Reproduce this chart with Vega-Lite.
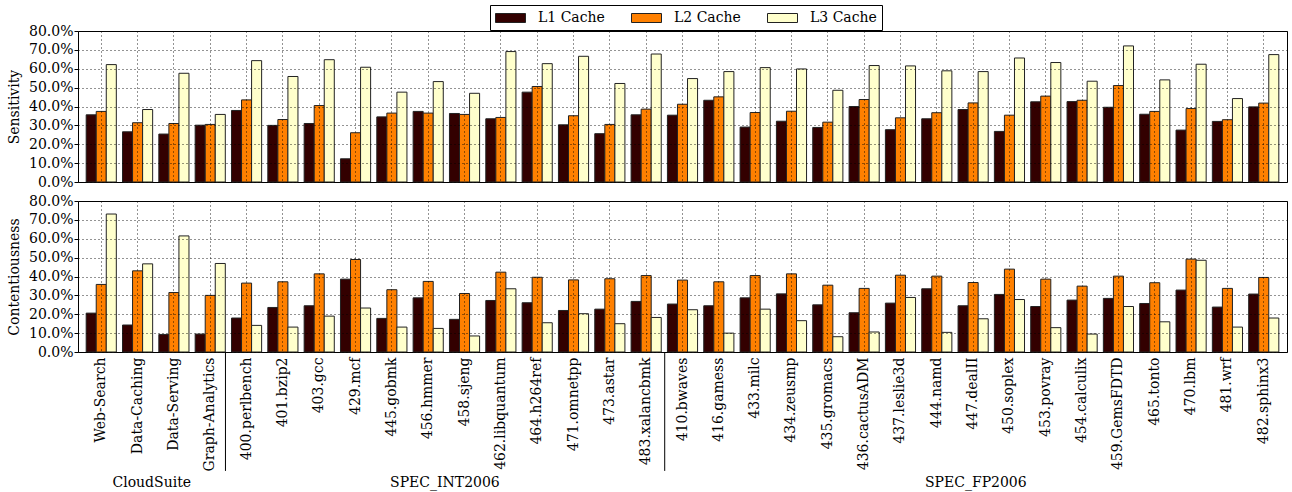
{
  "$schema": "https://vega.github.io/schema/vega-lite/v6.json",
  "background": "white",
  "padding": {"left": 7, "top": 4, "right": 4, "bottom": 0},
  "bounds": "flush",
  "config": {
    "font": "DejaVu Serif",
    "mark": {"font": "DejaVu Serif"},
    "text": {"font": "DejaVu Serif"},
    "view": {"stroke": "black", "strokeWidth": 1},
    "axis": {
      "labelFont": "DejaVu Serif", "titleFont": "DejaVu Serif",
      "labelFontSize": 14, "titleFontSize": 14, "titleFontWeight": "normal",
      "labelColor": "black", "titleColor": "black",
      "gridColor": "black", "gridDash": [1, 3], "gridOpacity": 0.85, "gridWidth": 1,
      "domain": false, "tickColor": "black"
    },
    "legend": {"labelFont": "DejaVu Serif", "labelFontSize": 14, "labelColor": "black"}
  },
  "datasets": {
    "sens": [
      {"bench": "Web-Search", "L1 Cache": 35.6, "L2 Cache": 37.4, "L3 Cache": 62.2},
      {"bench": "Data-Caching", "L1 Cache": 26.6, "L2 Cache": 31.4, "L3 Cache": 38.4},
      {"bench": "Data-Serving", "L1 Cache": 25.4, "L2 Cache": 31.0, "L3 Cache": 57.6},
      {"bench": "Graph-Analytics", "L1 Cache": 30.1, "L2 Cache": 30.5, "L3 Cache": 35.8},
      {"bench": "400.perlbench", "L1 Cache": 37.9, "L2 Cache": 43.5, "L3 Cache": 64.3},
      {"bench": "401.bzip2", "L1 Cache": 30.0, "L2 Cache": 33.1, "L3 Cache": 55.9},
      {"bench": "403.gcc", "L1 Cache": 31.0, "L2 Cache": 40.5, "L3 Cache": 64.8},
      {"bench": "429.mcf", "L1 Cache": 12.3, "L2 Cache": 26.1, "L3 Cache": 60.8},
      {"bench": "445.gobmk", "L1 Cache": 34.5, "L2 Cache": 36.5, "L3 Cache": 47.6},
      {"bench": "456.hmmer", "L1 Cache": 37.4, "L2 Cache": 36.5, "L3 Cache": 53.2},
      {"bench": "458.sjeng", "L1 Cache": 36.3, "L2 Cache": 35.8, "L3 Cache": 47.0},
      {"bench": "462.libquantum", "L1 Cache": 33.5, "L2 Cache": 34.2, "L3 Cache": 69.1},
      {"bench": "464.h264ref", "L1 Cache": 47.6, "L2 Cache": 50.6, "L3 Cache": 62.7},
      {"bench": "471.omnetpp", "L1 Cache": 30.3, "L2 Cache": 35.1, "L3 Cache": 66.6},
      {"bench": "473.astar", "L1 Cache": 25.6, "L2 Cache": 30.5, "L3 Cache": 52.2},
      {"bench": "483.xalancbmk", "L1 Cache": 35.6, "L2 Cache": 38.6, "L3 Cache": 67.8},
      {"bench": "410.bwaves", "L1 Cache": 35.4, "L2 Cache": 41.2, "L3 Cache": 54.8},
      {"bench": "416.gamess", "L1 Cache": 43.3, "L2 Cache": 45.1, "L3 Cache": 58.5},
      {"bench": "433.milc", "L1 Cache": 29.1, "L2 Cache": 36.8, "L3 Cache": 60.6},
      {"bench": "434.zeusmp", "L1 Cache": 32.2, "L2 Cache": 37.5, "L3 Cache": 59.9},
      {"bench": "435.gromacs", "L1 Cache": 28.9, "L2 Cache": 31.7, "L3 Cache": 48.6},
      {"bench": "436.cactusADM", "L1 Cache": 40.0, "L2 Cache": 43.7, "L3 Cache": 61.7},
      {"bench": "437.leslie3d", "L1 Cache": 27.7, "L2 Cache": 34.0, "L3 Cache": 61.5},
      {"bench": "444.namd", "L1 Cache": 33.5, "L2 Cache": 36.7, "L3 Cache": 58.9},
      {"bench": "447.dealII", "L1 Cache": 38.4, "L2 Cache": 41.9, "L3 Cache": 58.5},
      {"bench": "450.soplex", "L1 Cache": 26.8, "L2 Cache": 35.4, "L3 Cache": 65.7},
      {"bench": "453.povray", "L1 Cache": 42.5, "L2 Cache": 45.5, "L3 Cache": 63.3},
      {"bench": "454.calculix", "L1 Cache": 42.6, "L2 Cache": 43.3, "L3 Cache": 53.4},
      {"bench": "459.GemsFDTD", "L1 Cache": 39.6, "L2 Cache": 51.1, "L3 Cache": 72.1},
      {"bench": "465.tonto", "L1 Cache": 35.9, "L2 Cache": 37.4, "L3 Cache": 54.1},
      {"bench": "470.lbm", "L1 Cache": 27.5, "L2 Cache": 38.9, "L3 Cache": 62.4},
      {"bench": "481.wrf", "L1 Cache": 32.1, "L2 Cache": 33.0, "L3 Cache": 44.2},
      {"bench": "482.sphinx3", "L1 Cache": 39.8, "L2 Cache": 41.8, "L3 Cache": 67.5}
    ],
    "cont": [
      {"bench": "Web-Search", "L1 Cache": 20.6, "L2 Cache": 35.8, "L3 Cache": 73.1},
      {"bench": "Data-Caching", "L1 Cache": 14.3, "L2 Cache": 43.0, "L3 Cache": 46.7},
      {"bench": "Data-Serving", "L1 Cache": 9.3, "L2 Cache": 31.5, "L3 Cache": 61.5},
      {"bench": "Graph-Analytics", "L1 Cache": 9.5, "L2 Cache": 30.0, "L3 Cache": 46.9},
      {"bench": "400.perlbench", "L1 Cache": 18.0, "L2 Cache": 36.5, "L3 Cache": 14.1},
      {"bench": "401.bzip2", "L1 Cache": 23.6, "L2 Cache": 37.2, "L3 Cache": 13.2},
      {"bench": "403.gcc", "L1 Cache": 24.5, "L2 Cache": 41.4, "L3 Cache": 19.0},
      {"bench": "429.mcf", "L1 Cache": 38.6, "L2 Cache": 49.0, "L3 Cache": 23.3},
      {"bench": "445.gobmk", "L1 Cache": 17.8, "L2 Cache": 33.0, "L3 Cache": 13.2},
      {"bench": "456.hmmer", "L1 Cache": 28.7, "L2 Cache": 37.4, "L3 Cache": 12.5},
      {"bench": "458.sjeng", "L1 Cache": 17.3, "L2 Cache": 31.0, "L3 Cache": 8.5},
      {"bench": "462.libquantum", "L1 Cache": 27.3, "L2 Cache": 42.3, "L3 Cache": 33.5},
      {"bench": "464.h264ref", "L1 Cache": 26.1, "L2 Cache": 39.6, "L3 Cache": 15.5},
      {"bench": "471.omnetpp", "L1 Cache": 22.0, "L2 Cache": 38.2, "L3 Cache": 20.3},
      {"bench": "473.astar", "L1 Cache": 22.7, "L2 Cache": 38.8, "L3 Cache": 15.0},
      {"bench": "483.xalancbmk", "L1 Cache": 26.8, "L2 Cache": 40.5, "L3 Cache": 18.3},
      {"bench": "410.bwaves", "L1 Cache": 25.4, "L2 Cache": 38.1, "L3 Cache": 22.4},
      {"bench": "416.gamess", "L1 Cache": 24.5, "L2 Cache": 37.2, "L3 Cache": 10.0},
      {"bench": "433.milc", "L1 Cache": 28.7, "L2 Cache": 40.5, "L3 Cache": 22.7},
      {"bench": "434.zeusmp", "L1 Cache": 30.8, "L2 Cache": 41.4, "L3 Cache": 16.6},
      {"bench": "435.gromacs", "L1 Cache": 25.0, "L2 Cache": 35.4, "L3 Cache": 8.1},
      {"bench": "436.cactusADM", "L1 Cache": 20.8, "L2 Cache": 33.7, "L3 Cache": 10.6},
      {"bench": "437.leslie3d", "L1 Cache": 25.9, "L2 Cache": 40.7, "L3 Cache": 28.9},
      {"bench": "444.namd", "L1 Cache": 33.5, "L2 Cache": 40.2, "L3 Cache": 10.4},
      {"bench": "447.dealII", "L1 Cache": 24.5, "L2 Cache": 36.8, "L3 Cache": 17.6},
      {"bench": "450.soplex", "L1 Cache": 30.5, "L2 Cache": 43.9, "L3 Cache": 27.8},
      {"bench": "453.povray", "L1 Cache": 24.1, "L2 Cache": 38.6, "L3 Cache": 12.9},
      {"bench": "454.calculix", "L1 Cache": 27.5, "L2 Cache": 34.9, "L3 Cache": 9.5},
      {"bench": "459.GemsFDTD", "L1 Cache": 28.4, "L2 Cache": 40.2, "L3 Cache": 24.1},
      {"bench": "465.tonto", "L1 Cache": 25.7, "L2 Cache": 36.7, "L3 Cache": 16.0},
      {"bench": "470.lbm", "L1 Cache": 32.8, "L2 Cache": 49.2, "L3 Cache": 48.6},
      {"bench": "481.wrf", "L1 Cache": 23.8, "L2 Cache": 33.7, "L3 Cache": 13.2},
      {"bench": "482.sphinx3", "L1 Cache": 30.7, "L2 Cache": 39.5, "L3 Cache": 18.0}
    ]
  },
  "resolve": {"scale": {"color": "shared"}},
  "spacing": 19,
  "vconcat": [
    {
      "width": 1209,
      "height": 151,
      "data": {"name": "sens"},
      "transform": [{"fold": ["L1 Cache", "L2 Cache", "L3 Cache"], "as": ["cache", "value"]}],
      "mark": {"type": "bar", "stroke": "#222222", "strokeWidth": 1},
      "encoding": {
        "x": {
          "field": "bench", "type": "nominal",
          "scale": {"domain": ["Web-Search","Data-Caching","Data-Serving","Graph-Analytics","400.perlbench","401.bzip2","403.gcc","429.mcf","445.gobmk","456.hmmer","458.sjeng","462.libquantum","464.h264ref","471.omnetpp","473.astar","483.xalancbmk","410.bwaves","416.gamess","433.milc","434.zeusmp","435.gromacs","436.cactusADM","437.leslie3d","444.namd","447.dealII","450.soplex","453.povray","454.calculix","459.GemsFDTD","465.tonto","470.lbm","481.wrf","482.sphinx3"], "paddingInner": 0.17, "paddingOuter": 0.225},
          "axis": {"orient": "bottom", "labels": false, "ticks": false, "title": null, "grid": true, "zindex": 1}
        },
        "xOffset": {"field": "cache", "type": "nominal", "scale": {"paddingInner": 0, "paddingOuter": 0}},
        "y": {
          "field": "value", "type": "quantitative",
          "scale": {"domain": [0, 80], "nice": false},
          "axis": {"values": [0, 10, 20, 30, 40, 50, 60, 70, 80], "labelExpr": "format(datum.value, '.1f') + '%'", "title": "Sensitivity", "grid": true, "zindex": 1, "tickSize": 4, "labelPadding": 1, "titlePadding": 7}
        },
        "color": {
          "field": "cache", "type": "nominal",
          "scale": {"domain": ["L1 Cache", "L2 Cache", "L3 Cache"], "range": ["#330000", "#ff8000", "#ffffcc"]},
          "legend": {"orient": "none", "legendX": 412, "legendY": -26, "direction": "horizontal", "title": null, "strokeColor": "black", "fillColor": "white", "padding": 5, "symbolType": "M-1,-0.6h4v1.2h-4z", "symbolSize": 225, "symbolStrokeColor": "black", "symbolStrokeWidth": 1, "symbolOpacity": 1, "labelOffset": 27, "columnPadding": 24, "cornerRadius": 0, "labelFont": "DejaVu Serif", "labelFontSize": 14, "labelColor": "black"}
        }
      }
    },
    {
      "width": 1209,
      "height": 151,
      "layer": [
        {
          "data": {"name": "cont"},
          "transform": [{"fold": ["L1 Cache", "L2 Cache", "L3 Cache"], "as": ["cache", "value"]}],
          "mark": {"type": "bar", "stroke": "#222222", "strokeWidth": 1},
          "encoding": {
            "x": {
              "field": "bench", "type": "nominal",
              "scale": {"domain": ["Web-Search","Data-Caching","Data-Serving","Graph-Analytics","400.perlbench","401.bzip2","403.gcc","429.mcf","445.gobmk","456.hmmer","458.sjeng","462.libquantum","464.h264ref","471.omnetpp","473.astar","483.xalancbmk","410.bwaves","416.gamess","433.milc","434.zeusmp","435.gromacs","436.cactusADM","437.leslie3d","444.namd","447.dealII","450.soplex","453.povray","454.calculix","459.GemsFDTD","465.tonto","470.lbm","481.wrf","482.sphinx3"], "paddingInner": 0.17, "paddingOuter": 0.225},
              "axis": {"orient": "bottom", "labelAngle": 270, "labelAlign": "right", "labelBaseline": "middle", "labelPadding": 5, "ticks": false, "title": null, "grid": true, "zindex": 1}
            },
            "xOffset": {"field": "cache", "type": "nominal", "scale": {"paddingInner": 0, "paddingOuter": 0}},
            "y": {
              "field": "value", "type": "quantitative",
              "scale": {"domain": [0, 80], "nice": false},
              "axis": {"values": [0, 10, 20, 30, 40, 50, 60, 70, 80], "labelExpr": "format(datum.value, '.1f') + '%'", "title": "Contentiousness", "grid": true, "zindex": 1, "tickSize": 4, "labelPadding": 1, "titlePadding": 7}
            },
            "color": {"field": "cache", "type": "nominal", "scale": {"domain": ["L1 Cache", "L2 Cache", "L3 Cache"], "range": ["#330000", "#ff8000", "#ffffcc"]}}
          }
        },
        {
          "data": {"values": [{"bench": "400.perlbench"}]},
          "mark": {"type": "rule", "color": "black", "strokeWidth": 1},
          "encoding": {
            "x": {"field": "bench", "type": "nominal", "bandPosition": -0.2},
            "y": {"datum": 0, "type": "quantitative", "axis": {"values": [0, 10, 20, 30, 40, 50, 60, 70, 80], "labelExpr": "format(datum.value, '.1f') + '%'", "title": "Contentiousness", "grid": true, "zindex": 1, "tickSize": 4, "labelPadding": 1, "titlePadding": 7}},
            "y2": {"datum": -63}
          }
        },
        {
          "data": {"values": [{"bench": "410.bwaves"}]},
          "mark": {"type": "rule", "color": "black", "strokeWidth": 1},
          "encoding": {
            "x": {"field": "bench", "type": "nominal", "bandPosition": -0.09},
            "y": {"datum": 0, "type": "quantitative", "axis": {"values": [0, 10, 20, 30, 40, 50, 60, 70, 80], "labelExpr": "format(datum.value, '.1f') + '%'", "title": "Contentiousness", "grid": true, "zindex": 1, "tickSize": 4, "labelPadding": 1, "titlePadding": 7}},
            "y2": {"datum": -63}
          }
        },
        {
          "data": {"values": [{"bench": "Data-Caching", "group": "CloudSuite"}]},
          "mark": {"type": "text", "fontSize": 14, "font": "DejaVu Serif", "color": "black", "baseline": "middle"},
          "encoding": {"x": {"field": "bench", "type": "nominal", "bandPosition": 0.97}, "y": {"datum": -69.4, "type": "quantitative", "axis": {"values": [0, 10, 20, 30, 40, 50, 60, 70, 80], "labelExpr": "format(datum.value, '.1f') + '%'", "title": "Contentiousness", "grid": true, "zindex": 1, "tickSize": 4, "labelPadding": 1, "titlePadding": 7}}, "text": {"field": "group"}}
        },
        {
          "data": {"values": [{"bench": "458.sjeng", "group": "SPEC_INT2006"}]},
          "mark": {"type": "text", "fontSize": 14, "font": "DejaVu Serif", "color": "black", "baseline": "middle"},
          "encoding": {"x": {"field": "bench", "type": "nominal", "bandPosition": -0.15}, "y": {"datum": -69.4, "type": "quantitative", "axis": {"values": [0, 10, 20, 30, 40, 50, 60, 70, 80], "labelExpr": "format(datum.value, '.1f') + '%'", "title": "Contentiousness", "grid": true, "zindex": 1, "tickSize": 4, "labelPadding": 1, "titlePadding": 7}}, "text": {"field": "group"}}
        },
        {
          "data": {"values": [{"bench": "447.dealII", "group": "SPEC_FP2006"}]},
          "mark": {"type": "text", "fontSize": 14, "font": "DejaVu Serif", "color": "black", "baseline": "middle"},
          "encoding": {"x": {"field": "bench", "type": "nominal", "bandPosition": 0.59}, "y": {"datum": -69.4, "type": "quantitative", "axis": {"values": [0, 10, 20, 30, 40, 50, 60, 70, 80], "labelExpr": "format(datum.value, '.1f') + '%'", "title": "Contentiousness", "grid": true, "zindex": 1, "tickSize": 4, "labelPadding": 1, "titlePadding": 7}}, "text": {"field": "group"}}
        }
      ]
    }
  ]
}
